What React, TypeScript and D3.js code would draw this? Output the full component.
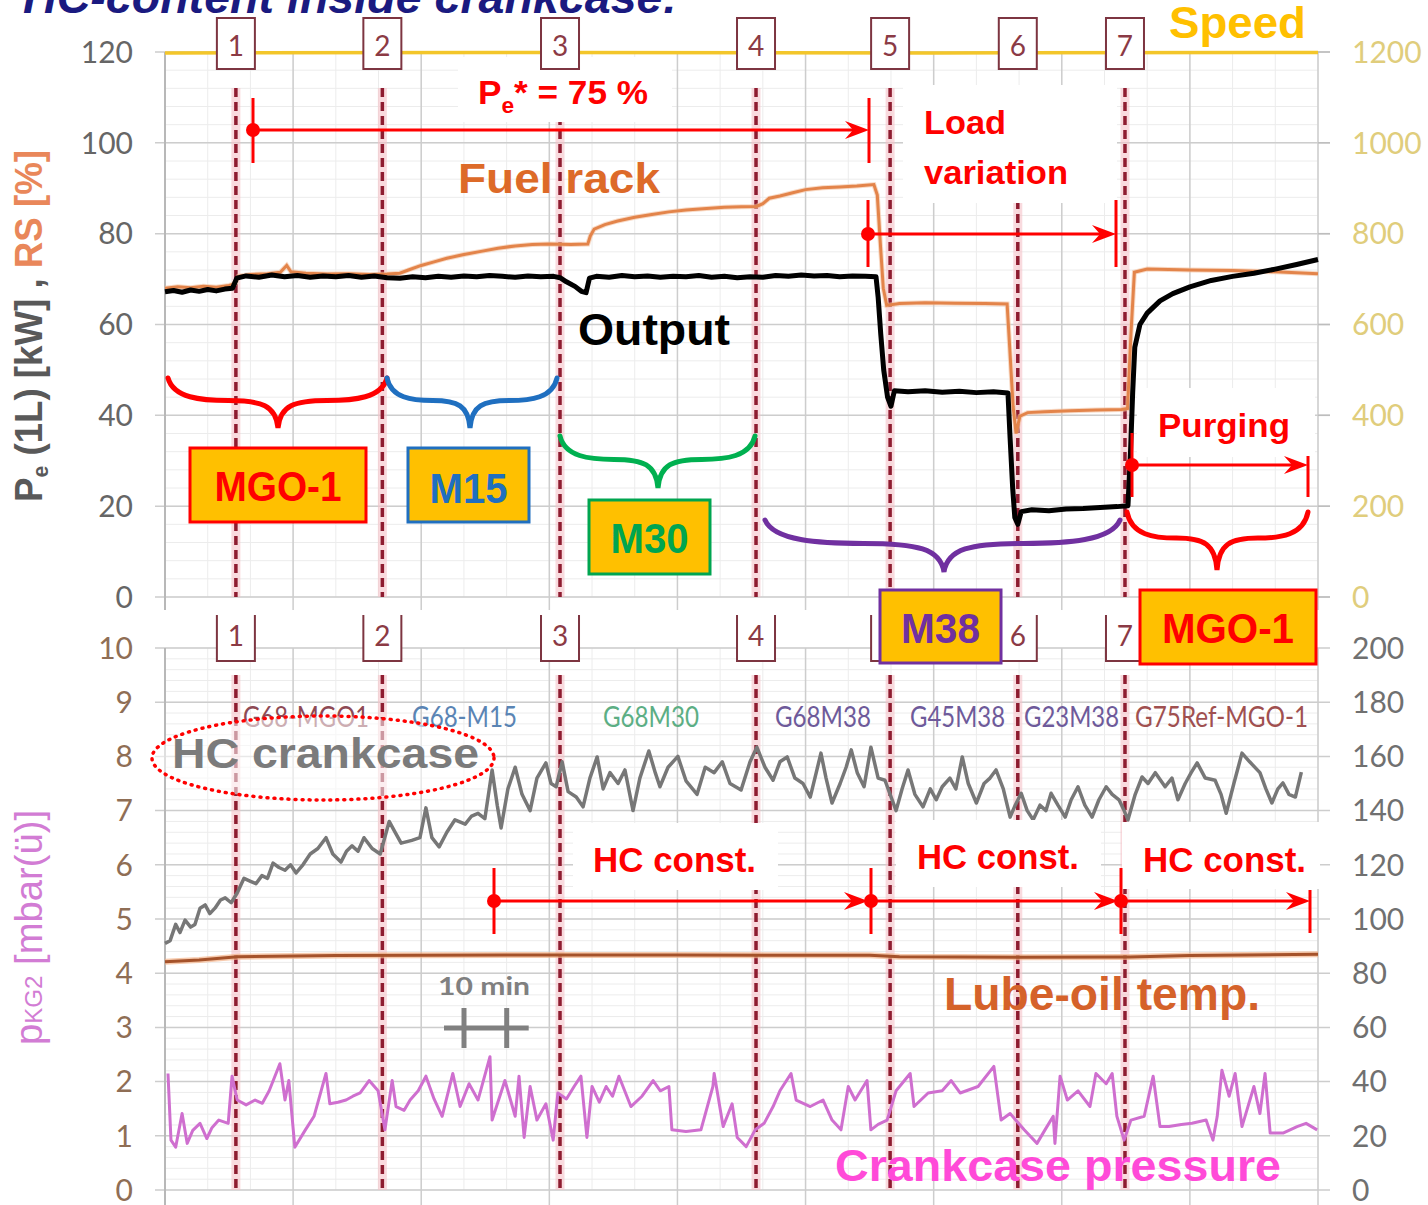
import React from "react";
import * as d3 from "d3";

// ---------- data ----------
const speedSeries: [number, number][] = [[0, 1198], [90, 1199], [180, 1198], [270, 1199]];

const fuelRackSeries: [number, number][] = [
  [0, 68.0], [3, 68.3], [6, 68.1], [9, 68.4], [12, 68.2], [15, 68.6], [16.4, 69.0], [17.2, 70.6], [20, 71.0], [24, 71.2],
  [27, 71.5], [28.5, 73.0], [29.5, 71.6], [33, 71.3], [38, 71.1], [43, 71.2], [48, 71.0], [52, 71.1], [55, 71.3], [57, 72.0],
  [60, 73.0], [63, 73.8], [66, 74.6], [70, 75.4], [74, 76.1], [78, 76.8], [82, 77.3], [86, 77.6], [90, 77.7], [95, 77.6],
  [99, 77.7], [99.6, 79.5], [100.5, 81.0], [103, 82.0], [106, 82.8], [110, 83.6], [114, 84.2], [118, 84.8], [122, 85.2],
  [126, 85.5], [131, 85.8], [135, 85.9], [138.5, 86.0], [140, 86.6], [141.5, 87.8], [144, 88.3], [147, 89.0], [150, 89.7],
  [154, 90.1], [158, 90.3], [162, 90.5], [166, 90.8], [166.8, 88.5], [167.5, 78], [168.2, 68], [169, 64.2], [172, 64.6],
  [178, 64.8], [185, 64.7], [192, 64.6], [197.2, 64.5], [197.8, 55], [198.6, 42], [199.3, 36.0], [200.2, 39.8], [202, 40.6],
  [206, 40.8], [212, 41.0], [218, 41.2], [224, 41.3], [225.4, 41.5], [226.2, 58], [227.0, 71.5], [230, 72.2], [240, 72.0],
  [250, 71.9], [260, 71.6], [270, 71.2],
];

const outputSeries: [number, number][] = [
  [0, 67.2], [2, 67.5], [4, 67.1], [6, 67.6], [8, 67.3], [10, 67.7], [12, 67.4], [14, 67.8], [15.8, 68.0], [16.8, 70.2],
  [19, 70.7], [22, 70.4], [25, 70.9], [28, 70.5], [31, 70.8], [34, 70.4], [37, 70.7], [40, 70.5], [43, 70.8], [46, 70.4],
  [49, 70.7], [52, 70.3], [55, 70.2], [58, 70.5], [61, 70.3], [64, 70.6], [67, 70.4], [70, 70.7], [73, 70.5], [76, 70.8],
  [79, 70.6], [82, 70.4], [85, 70.7], [88, 70.5], [91, 70.6], [92.5, 70.3], [94, 69.4], [96, 68.4], [97.5, 67.3], [98.6, 67.0],
  [99.4, 70.2], [101, 70.6], [104, 70.4], [107, 70.8], [110, 70.5], [113, 70.7], [116, 70.4], [119, 70.6], [122, 70.5],
  [125, 70.8], [128, 70.4], [131, 70.6], [134, 70.3], [137, 70.5], [140, 70.4], [143, 70.8], [146, 70.6], [149, 70.9],
  [152, 70.7], [155, 70.8], [158, 70.5], [161, 70.7], [164, 70.6], [166.5, 70.5], [167.0, 66], [167.6, 58], [168.3, 50],
  [169.2, 44], [170, 42.0], [170.8, 45.4], [174, 45.2], [178, 45.4], [182, 45.1], [186, 45.3], [190, 45.0], [194, 45.2],
  [197.4, 44.9], [197.9, 35], [198.5, 24], [199.0, 17.5], [199.7, 16.0], [200.5, 18.8], [203, 19.2], [207, 19.0], [211, 19.4],
  [215, 19.5], [219, 19.7], [223, 19.9], [225.5, 20.1], [226.1, 32], [226.6, 45], [227.1, 55], [228.3, 60.0], [230, 62.5],
  [233, 65.2], [236, 66.8], [240, 68.3], [245, 69.7], [250, 70.6], [255, 71.3], [260, 72.2], [265, 73.2], [270, 74.3],
];

const hcSeries: [number, number][] = [
  [0, 4.55], [1.2, 4.6], [2.5, 4.9], [3.5, 4.75], [4.7, 4.98], [6, 4.85], [7.0, 4.9], [8.2, 5.2], [9.4, 5.26], [10.5, 5.1],
  [11.7, 5.2], [13, 5.35], [14.1, 5.39], [15.5, 5.3], [16.9, 5.48], [18.5, 5.75], [19.9, 5.7], [21.3, 5.65], [22.7, 5.8],
  [24, 5.75], [25.3, 6.03], [26.7, 5.95], [28.1, 5.9], [29.4, 6.0], [30.7, 5.85], [32.3, 6.0], [34.0, 6.2], [35.8, 6.3],
  [37.7, 6.5], [39.3, 6.2], [41.2, 6.05], [42.5, 6.25], [43.8, 6.35], [45.2, 6.25], [46.6, 6.5], [48.5, 6.3], [50.4, 6.2],
  [52.5, 6.8], [53.9, 6.6], [55.3, 6.4], [57.8, 6.45], [59.7, 6.5], [61.1, 7.05], [62.5, 6.5], [64.2, 6.33], [66.0, 6.6],
  [67.9, 6.83], [70.3, 6.75], [71.8, 6.9], [73.3, 6.95], [74.9, 6.85], [76.6, 7.75], [77.8, 7.1], [78.7, 6.68], [80.3, 7.4],
  [82.0, 7.8], [83.6, 7.3], [85.5, 7.0], [87.1, 7.6], [89.2, 7.88], [90.4, 7.5], [91.6, 7.44], [93.0, 7.9], [94.4, 7.35],
  [96.3, 7.25], [97.9, 7.07], [99.5, 7.6], [101.2, 7.99], [102.6, 7.4], [104.2, 7.7], [106.1, 7.5], [107.7, 7.75], [109.6, 7.0],
  [111.2, 7.6], [113.3, 8.1], [114.8, 7.7], [115.9, 7.44], [117.8, 7.8], [120.1, 8.0], [122.0, 7.55], [124.6, 7.3],
  [126.5, 7.8], [128.6, 7.7], [130.5, 7.9], [132.3, 7.5], [134.9, 7.38], [137.0, 7.9], [138.6, 8.17], [140.5, 7.8],
  [142.4, 7.56], [144.0, 7.9], [145.7, 7.99], [147.5, 7.6], [149.4, 7.5], [151.1, 7.25], [152.5, 7.7], [153.6, 8.06],
  [154.8, 7.6], [156.2, 7.14], [158.1, 7.5], [159.5, 7.8], [160.7, 8.12], [162.1, 7.7], [163.7, 7.44], [165.3, 8.17],
  [167.0, 7.6], [168.6, 7.56], [169.8, 7.3], [171.2, 7.0], [172.6, 7.4], [174.0, 7.75], [175.6, 7.3], [177.5, 7.07],
  [179.2, 7.4], [180.6, 7.2], [182.0, 7.44], [183.8, 7.6], [185.2, 7.4], [186.7, 7.99], [188.1, 7.5], [190.0, 7.14],
  [191.8, 7.5], [193.2, 7.6], [194.6, 7.75], [196.3, 7.4], [197.9, 6.88], [199.1, 7.1], [200.5, 7.32], [201.9, 7.0],
  [203.3, 6.83], [204.9, 7.1], [206.3, 7.0], [207.5, 7.32], [209.1, 7.1], [210.8, 6.88], [212.2, 7.2], [213.8, 7.44],
  [215.4, 7.1], [217.1, 6.88], [218.7, 7.2], [220.4, 7.44], [221.8, 7.3], [223.4, 7.2], [224.6, 7.0], [225.5, 6.83],
  [227.2, 7.3], [228.8, 7.62], [230.2, 7.5], [231.9, 7.7], [234.2, 7.44], [235.8, 7.6], [237.2, 7.2], [238.9, 7.5],
  [240.3, 7.7], [241.7, 7.88], [243.6, 7.6], [245.9, 7.56], [247.3, 7.3], [248.5, 6.95], [250.3, 7.5], [252.2, 8.06],
  [254.0, 7.9], [256.4, 7.7], [257.8, 7.4], [259.2, 7.14], [260.6, 7.4], [261.8, 7.51], [263.2, 7.3], [264.7, 7.25],
  [266.1, 7.71],
];

const pressureSeries: [number, number][] = [
  [0.7, 2.15], [1.4, 0.92], [2.5, 0.79], [4.0, 1.41], [5.2, 0.86], [6.5, 1.1], [8.2, 1.23], [9.8, 0.95], [11, 1.15], [12.6, 1.29],
  [14.8, 1.23], [15.7, 2.1], [16.9, 1.66], [19, 1.57], [21.1, 1.66], [22.8, 1.6], [24.4, 1.83], [26.9, 2.33], [28.1, 1.66],
  [29.0, 2.02], [30.4, 0.79], [32.8, 1.1], [34.9, 1.36], [37.7, 2.15], [38.6, 1.59], [40.5, 1.62], [42.4, 1.66], [44, 1.73],
  [45.7, 1.79], [47.8, 2.02], [49.9, 1.83], [51.5, 1.11], [53.2, 2.02], [54.1, 1.54], [56, 1.47], [57.4, 1.66], [59.3, 1.83],
  [61.1, 2.1], [63, 1.68], [64.9, 1.36], [67.4, 2.15], [69.1, 1.54], [71.2, 1.96], [73.3, 1.66], [76.1, 2.46], [76.6, 1.29],
  [79.6, 2.02], [82.0, 1.36], [82.9, 2.1], [84.1, 0.97], [85.5, 1.91], [87.1, 1.29], [89.2, 1.59], [90.9, 0.92], [92.0, 1.79],
  [94, 1.68], [95.8, 1.91], [97.4, 2.1], [98.8, 0.97], [100.0, 1.91], [101.7, 1.62], [103.3, 1.91], [104.8, 1.73], [106.3, 2.1],
  [109.1, 1.54], [111.7, 1.73], [114.3, 2.02], [116, 1.83], [118.0, 1.91], [118.7, 1.11], [122, 1.08], [125.5, 1.11],
  [128.3, 1.91], [128.6, 2.15], [130.7, 1.17], [132.8, 1.59], [134.0, 0.97], [136.1, 0.8], [138.2, 1.11], [140.3, 1.23],
  [142.4, 1.54], [144.0, 1.83], [146.6, 2.15], [147.8, 1.66], [151.1, 1.54], [154.1, 1.66], [156.2, 1.29], [158.3, 1.11],
  [160.0, 1.91], [161.6, 1.66], [164.4, 2.02], [165.3, 1.11], [167, 1.21], [169.1, 1.29], [171.2, 1.83], [174.5, 2.15],
  [175.4, 1.54], [178.7, 1.79], [182.0, 1.83], [184.1, 2.02], [186.2, 1.79], [190.4, 1.91], [194.1, 2.28], [195.8, 1.29],
  [197.9, 1.41], [201.2, 1.11], [204.2, 0.86], [206, 1.1], [208.0, 1.36], [208.4, 0.86], [209.6, 2.1], [211.3, 1.66],
  [213.8, 1.83], [216.6, 1.54], [218.0, 2.15], [220.4, 1.96], [221.8, 2.15], [222.9, 1.36], [224.6, 0.92], [226.2, 1.29],
  [229.3, 1.36], [231.4, 2.1], [233.0, 1.17], [235.1, 1.17], [238, 1.21], [240.5, 1.23], [243.8, 1.29], [245.4, 0.92],
  [246.4, 1.36], [247.5, 2.21], [249.2, 1.73], [250.6, 2.15], [252.2, 1.17], [255.0, 1.91], [256.4, 1.41], [257.6, 2.15],
  [258.8, 1.05], [261.8, 1.05], [265.1, 1.17], [267.2, 1.23], [269.8, 1.11],
];

const lubeOilSeries: [number, number][] = [
  [0, 84.2], [8, 84.9], [17, 86.1], [40, 86.5], [80, 86.7], [120, 86.7], [165, 86.6], [172, 86.1], [200, 85.9], [226, 86.0],
  [240, 86.5], [270, 87.0],
];

const eventTimes = [16.6, 50.9, 92.5, 138.4, 169.8, 199.7, 224.8];
const eventLabels = ["1", "2", "3", "4", "5", "6", "7"];

const topLeftTicks = [0, 20, 40, 60, 80, 100, 120];
const topRightTicks = [0, 200, 400, 600, 800, 1000, 1200];
const botLeftTicks = [0, 1, 2, 3, 4, 5, 6, 7, 8, 9, 10];
const botRightTicks = [0, 20, 40, 60, 80, 100, 120, 140, 160, 180, 200];

const segmentLabels = ["G68-MGO1", "G68-M15", "G68M30", "G68M38", "G45M38", "G23M38", "G75Ref-MGO-1"];

// ---------- layout ----------
const W = 1428, H = 1205;
const X0 = 165, X1 = 1318;
const x = d3.scaleLinear().domain([0, 270]).range([X0, X1]);
const yTop = d3.scaleLinear().domain([0, 120]).range([597, 52]);
const yTopR = d3.scaleLinear().domain([0, 1200]).range([597, 52]);
const yBot = d3.scaleLinear().domain([0, 10]).range([1190, 648]);
const yBotR = d3.scaleLinear().domain([0, 200]).range([1190, 648]);

const SANS = "'Liberation Sans', Arial, sans-serif";
const TICKF = "Lato, 'Open Sans', sans-serif";
const RED = "#ff0000";

const lineTop = d3.line<[number, number]>().x(d => x(d[0])).y(d => yTop(d[1]));
const lineTopR = d3.line<[number, number]>().x(d => x(d[0])).y(d => yTopR(d[1]));
const lineBot = d3.line<[number, number]>().x(d => x(d[0])).y(d => yBot(d[1]));
const lineBotR = d3.line<[number, number]>().x(d => x(d[0])).y(d => yBotR(d[1]));

function bracePath(x1: number, x2: number, xm: number, y0: number, y1: number) {
  const h = y1 - y0;
  const a = xm - x1;
  const b = x2 - xm;
  const ym = y0 + 0.45 * h;
  return `M${x1},${y0} C${x1 + 0.05 * a},${y0 + 0.4 * h} ${x1 + 0.3 * a},${ym} ${x1 + 0.55 * a},${ym}` +
    ` C${x1 + 0.85 * a},${ym} ${xm - 0.02 * a},${y0 + 0.55 * h} ${xm},${y1}` +
    ` C${xm + 0.02 * b},${y0 + 0.55 * h} ${xm + 0.15 * b},${ym} ${xm + 0.45 * b},${ym}` +
    ` C${x2 - 0.3 * b},${ym} ${x2 - 0.05 * b},${y0 + 0.4 * h} ${x2},${y0}`;
}

function Arrow(p: { x1: number; x2: number; y: number; t1: [number, number]; t2?: [number, number]; dot?: boolean }) {
  const { x1, x2, y, t1, t2 } = p;
  return (
    <g>
      <line x1={x1} x2={x2 - 6} y1={y} y2={y} stroke={RED} strokeWidth={3} />
      <path d={`M${x2},${y} L${x2 - 24},${y - 9} L${x2 - 16},${y} L${x2 - 24},${y + 9} Z`} fill={RED} />
      <line x1={x1} x2={x1} y1={t1[0]} y2={t1[1]} stroke={RED} strokeWidth={3} />
      {t2 && <line x1={x2} x2={x2} y1={t2[0]} y2={t2[1]} stroke={RED} strokeWidth={3} />}
      {p.dot !== false && <circle cx={x1} cy={y} r={7} fill={RED} />}
    </g>
  );
}

function TagBox(p: { x: number; y: number; w: number; h: number; color: string; text: string; base: number; len: number }) {
  return (
    <g>
      <rect x={p.x} y={p.y} width={p.w} height={p.h} fill="#ffc000" stroke={p.color} strokeWidth={3} />
      <text x={p.x + p.w / 2} y={p.base} textAnchor="middle" fontFamily={SANS} fontWeight="bold" fontSize={42}
        fill={p.color} textLength={p.len} lengthAdjust="spacingAndGlyphs">{p.text}</text>
    </g>
  );
}

function BigText(p: { x: number; y: number; size: number; color: string; len: number; text: string; italic?: boolean }) {
  return (
    <text x={p.x} y={p.y} fontFamily={SANS} fontWeight="bold" fontStyle={p.italic ? "italic" : "normal"}
      fontSize={p.size} fill={p.color} textLength={p.len} lengthAdjust="spacingAndGlyphs">{p.text}</text>
  );
}

export default function App() {
  const minorX = d3.range(0, 271, 10);
  const majorX = d3.range(0, 271, 30);
  const minorTop = d3.range(0, 121, 4);
  const minorBot = d3.range(0, 10.01, 0.2);
  const segXs = [243, 412, 603, 775, 910, 1024, 1135];
  const segLens = [126, 105, 96, 96, 95, 95, 173];
  const segColors = ["#8e4a55", "#5a84b4", "#5cae84", "#6e5a9a", "#6e5a9a", "#6e5a9a", "#a05050"];
  const scaleBarX = 464;
  const tenMin = x(10) - x(0);

  return (
    <div style={{ position: "absolute", left: 0, top: 0 }}>
      <svg width={W} height={H} viewBox={`0 0 ${W} ${H}`} style={{ display: "block", background: "#fff" }}>
        <rect x={0} y={0} width={W} height={H} fill="#fff" />

        {/* minor grid */}
        <g stroke="#ececec" strokeWidth={1}>
          {minorTop.map(v => <line key={"mt" + v} x1={X0} x2={X1} y1={yTop(v)} y2={yTop(v)} />)}
          {minorBot.map(v => <line key={"mb" + v} x1={X0} x2={X1} y1={yBot(v)} y2={yBot(v)} />)}
          {minorX.map(t => (
            <g key={"mx" + t}>
              <line x1={x(t)} x2={x(t)} y1={52} y2={597} />
              <line x1={x(t)} x2={x(t)} y1={648} y2={1190} />
            </g>
          ))}
        </g>
        {/* major grid */}
        <g stroke="#cdcdcd" strokeWidth={1.5}>
          {topLeftTicks.map(v => <line key={"Mt" + v} x1={155} x2={1330} y1={yTop(v)} y2={yTop(v)} />)}
          {botLeftTicks.map(v => <line key={"Mb" + v} x1={155} x2={1330} y1={yBot(v)} y2={yBot(v)} />)}
          {majorX.map(t => (
            <g key={"Mx" + t}>
              <line x1={x(t)} x2={x(t)} y1={52} y2={610} />
              <line x1={x(t)} x2={x(t)} y1={648} y2={1205} />
            </g>
          ))}
        </g>
        <g stroke="#b8b8b8" strokeWidth={2}>
          <line x1={X0} x2={X0} y1={52} y2={610} />
          <line x1={X0} x2={X0} y1={648} y2={1205} />
        </g>

        {/* event dashed lines */}
        {eventTimes.map((t, i) => (
          <g key={"ev" + i}>
            <line x1={x(t)} x2={x(t)} y1={88} y2={597} stroke="#f6c3c9" strokeWidth={9} opacity={0.6} />
            <line x1={x(t)} x2={x(t)} y1={88} y2={597} stroke="#8e1c30" strokeWidth={3.5} strokeDasharray="9 5" />
            <line x1={x(t)} x2={x(t)} y1={675} y2={1190} stroke="#f6c3c9" strokeWidth={9} opacity={0.6} />
            <line x1={x(t)} x2={x(t)} y1={675} y2={1190} stroke="#8e1c30" strokeWidth={3.5} strokeDasharray="9 5" />
          </g>
        ))}

        {/* top panel series */}
        <path d={lineTopR(speedSeries) || ""} fill="none" stroke="#f3c62a" strokeWidth={3.5} />
        <path d={lineTop(fuelRackSeries) || ""} fill="none" stroke="#f4c2a0" strokeWidth={5} opacity={0.6} />
        <path d={lineTop(fuelRackSeries) || ""} fill="none" stroke="#e3844a" strokeWidth={3} />
        <path d={lineTop(outputSeries) || ""} fill="none" stroke="#000" strokeWidth={5} strokeLinejoin="round" />

        {/* bottom panel series */}
        <path d={lineBotR(lubeOilSeries) || ""} fill="none" stroke="#f4b48a" strokeWidth={6} opacity={0.7} />
        <path d={lineBotR(lubeOilSeries) || ""} fill="none" stroke="#a5522a" strokeWidth={3} />
        <path d={lineBot(hcSeries) || ""} fill="none" stroke="#777" strokeWidth={3.5} strokeLinejoin="round" />
        <path d={lineBot(pressureSeries) || ""} fill="none" stroke="#cf6fcf" strokeWidth={3} strokeLinejoin="round" />

        {/* white annotation panels */}
        <g fill="#fff">
          <rect x={458} y={57} width={214} height={65} />
          <rect x={903} y={85} width={214} height={118} />
          <rect x={1137} y={388} width={178} height={69} />
          <rect x={573} y={823} width={205} height={67} />
          <rect x={896} y={820} width={205} height={67} />
          <rect x={1122} y={822} width={198} height={67} />
        </g>

        {/* arrows */}
        <Arrow x1={253} x2={869} y={130} t1={[98, 163]} t2={[98, 163]} />
        <Arrow x1={868} x2={1116} y={234} t1={[200, 267]} t2={[200, 267]} />
        <Arrow x1={1132} x2={1308} y={465} t1={[433, 497]} t2={[456, 497]} />
        <Arrow x1={494} x2={868} y={901} t1={[868, 934]} />
        <Arrow x1={871} x2={1118} y={901} t1={[868, 934]} />
        <Arrow x1={1121} x2={1310} y={901} t1={[868, 934]} t2={[890, 933]} />

        {/* red annotation texts */}
        <text x={478} y={104} fontFamily={SANS} fontWeight="bold" fontSize={34} fill={RED} textLength={170} lengthAdjust="spacingAndGlyphs">
          <tspan>P</tspan><tspan fontSize={22} dy={9}>e</tspan><tspan dy={-9}>* = 75 %</tspan>
        </text>
        <BigText x={924} y={134} size={34} color={RED} len={82} text="Load" />
        <BigText x={924} y={184} size={34} color={RED} len={144} text="variation" />
        <BigText x={1158} y={437} size={34} color={RED} len={132} text="Purging" />
        <BigText x={593} y={872} size={35} color={RED} len={163} text="HC const." />
        <BigText x={917} y={869} size={35} color={RED} len={162} text="HC const." />
        <BigText x={1143} y={872} size={35} color={RED} len={163} text="HC const." />

        {/* braces */}
        <g fill="none" strokeWidth={5} strokeLinecap="round">
          <path d={bracePath(168, 387, 278, 378, 428)} stroke={RED} />
          <path d={bracePath(387, 557, 470, 378, 428)} stroke="#1f6fc0" />
          <path d={bracePath(560, 755, 658, 436, 488)} stroke="#00b050" />
          <path d={bracePath(765, 1120, 944, 520, 572)} stroke="#7030a0" />
          <path d={bracePath(1127, 1308, 1217, 512, 570)} stroke={RED} />
        </g>

        {/* event number boxes */}
        {eventTimes.map((t, i) => (
          <g key={"nb" + i}>
            <rect x={x(t) - 19} y={18} width={38} height={51} fill="#fff" stroke="#7d3541" strokeWidth={2} />
            <text x={x(t)} y={56} textAnchor="middle" fontFamily={TICKF} fontSize={28} fill="#8b3a45">{eventLabels[i]}</text>
            <path d={`M${x(t) - 19},615 V661 H${x(t) + 19} V615`} fill="#fff" stroke="#7d3541" strokeWidth={2} />
            <text x={x(t)} y={646} textAnchor="middle" fontFamily={TICKF} fontSize={28} fill="#8b3a45">{eventLabels[i]}</text>
          </g>
        ))}

        {/* fuel tag boxes */}
        <TagBox x={190} y={448} w={176} h={74} color={RED} text="MGO-1" base={501} len={127} />
        <TagBox x={408} y={448} w={121} h={74} color="#1f6fc0" text="M15" base={503} len={78} />
        <TagBox x={589} y={500} w={121} h={74} color="#00a550" text="M30" base={553} len={78} />
        <TagBox x={880} y={590} w={121} h={73} color="#7030a0" text="M38" base={643} len={79} />
        <TagBox x={1140} y={590} w={176} h={74} color={RED} text="MGO-1" base={643} len={132} />

        {/* segment labels */}
        {segmentLabels.map((s, i) => (
          <text key={s} x={segXs[i]} y={727} fontFamily={TICKF} fontSize={28} fill={segColors[i]}
            textLength={segLens[i]} lengthAdjust="spacingAndGlyphs">{s}</text>
        ))}

        {/* HC crankcase ellipse + label */}
        <ellipse cx={323} cy={758} rx={171} ry={42} fill="#fff" fillOpacity={0.55} stroke={RED} strokeWidth={3.5}
          strokeDasharray="1 6" strokeLinecap="round" />
        <BigText x={172} y={768} size={42} color="#7b7b7b" len={307} text="HC crankcase" />

        {/* big series labels */}
        <BigText x={23} y={13} size={46} color="#1a1a80" len={655} text="HC-content inside crankcase:" italic />
        <BigText x={1169} y={38} size={44} color="#ffc000" len={137} text="Speed" />
        <BigText x={458} y={193} size={43} color="#dd6a28" len={202} text="Fuel rack" />
        <BigText x={578} y={345} size={44} color="#000" len={152} text="Output" />
        <BigText x={944} y={1010} size={46} color="#d5622a" len={316} text="Lube-oil temp." />
        <BigText x={835} y={1181} size={45} color="#ff4ad8" len={446} text="Crankcase pressure" />

        {/* 10 min scale bar */}
        <text x={438} y={995} fontFamily={TICKF} fontWeight="bold" fontSize={25} fill="#808080" textLength={92} lengthAdjust="spacingAndGlyphs">10 min</text>
        <g stroke="#808080" strokeWidth={5}>
          <line x1={scaleBarX - 20} x2={scaleBarX + tenMin + 22} y1={1028} y2={1028} />
          <line x1={scaleBarX} x2={scaleBarX} y1={1008} y2={1048} />
          <line x1={scaleBarX + tenMin} x2={scaleBarX + tenMin} y1={1008} y2={1048} />
        </g>

        {/* ticks */}
        <g fontFamily={TICKF} fontSize={30}>
          {topLeftTicks.map(v => <text key={"tl" + v} x={133} y={yTop(v)} dy="0.36em" textAnchor="end" fill="#666">{v}</text>)}
          {topRightTicks.map(v => <text key={"tr" + v} x={1352} y={yTopR(v)} dy="0.36em" fill="#e0cd7c">{v}</text>)}
          {botLeftTicks.map(v => <text key={"bl" + v} x={133} y={yBot(v)} dy="0.36em" textAnchor="end" fill="#8f6e55">{v}</text>)}
          {botRightTicks.map(v => <text key={"br" + v} x={1352} y={yBotR(v)} dy="0.36em" fill="#707070">{v}</text>)}
        </g>
        <g stroke="#bdbdbd" strokeWidth={1.5}>
          {topRightTicks.map(v => <line key={"rt" + v} x1={X1} x2={1330} y1={yTopR(v)} y2={yTopR(v)} />)}
        </g>

        {/* axis titles */}
        <text transform="translate(42,502) rotate(-90)" fontFamily={SANS} fontWeight="bold" fontSize={38} fill="#595959"
          textLength={352} lengthAdjust="spacingAndGlyphs">
          <tspan>P</tspan><tspan fontSize={22} dy={6}>e</tspan><tspan dy={-6}> (1L) [kW] , </tspan><tspan fill="#e9875a">RS [%]</tspan>
        </text>
        <text transform="translate(42,1045) rotate(-90)" fontFamily={SANS} fontSize={38} fill="#d27cd4"
          textLength={235} lengthAdjust="spacingAndGlyphs">
          <tspan>p</tspan><tspan fontSize={24}>KG2</tspan><tspan> [mbar(ü)]</tspan>
        </text>
      </svg>
    </div>
  );
}
